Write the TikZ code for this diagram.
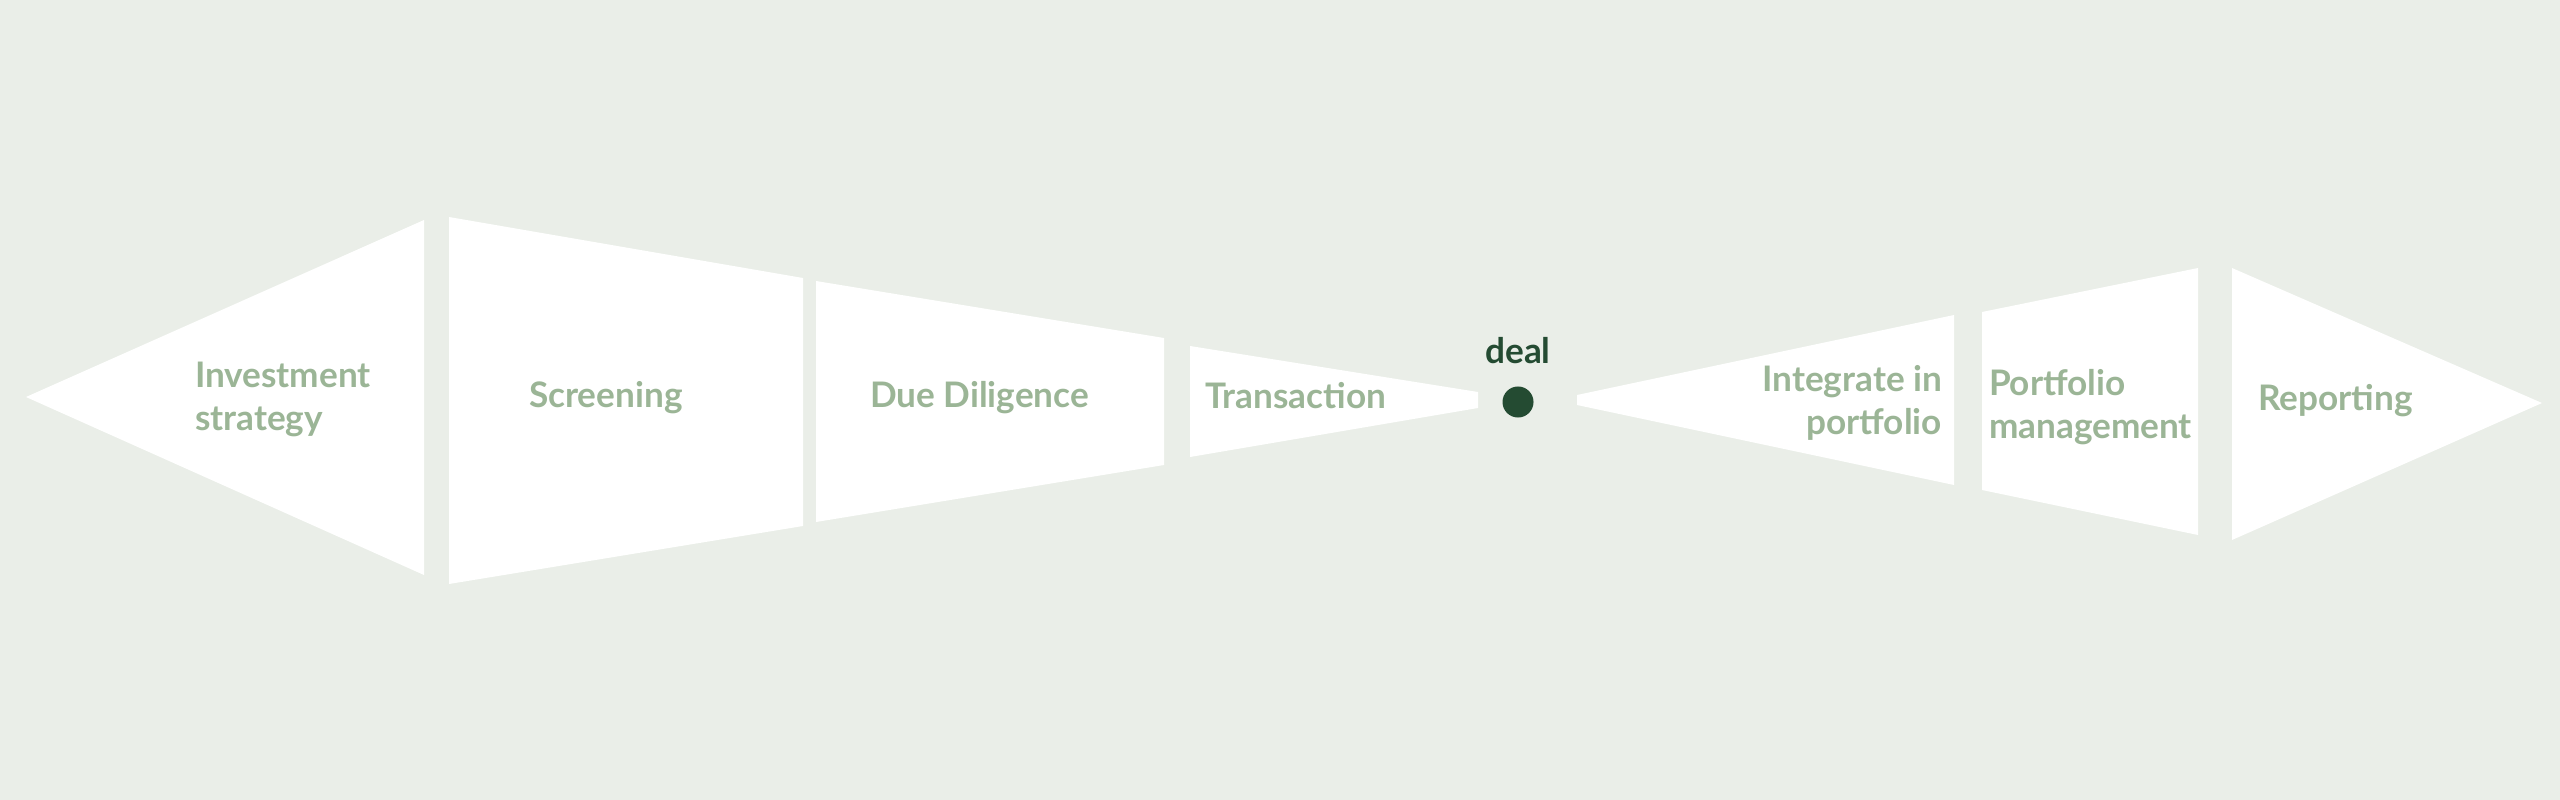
\documentclass[tikz,border=0pt]{standalone}
\usepackage{fontspec}
\setmainfont{Lato}
\usepackage{tikz}
\usetikzlibrary{positioning}
\definecolor{paper}{RGB}{234,238,232}
\definecolor{stagegreen}{RGB}{155,181,150}
\definecolor{dealgreen}{RGB}{36,75,50}
\tikzset{stage/.style={fill=white,draw=none}}
\tikzset{stage labels/.style={font=\bfseries\fontsize{10}{12}\selectfont,text=stagegreen,inner sep=0pt,outer sep=0pt}}
\tikzset{deal labels/.style={font=\bfseries\fontsize{10}{12}\selectfont,text=dealgreen,inner sep=0pt,outer sep=0pt}}
\tikzset{deal dot/.style={circle,fill=dealgreen,minimum size=0.31cm,inner sep=0pt}}

\begin{document}
\begin{tikzpicture}[x=0.01cm,y=-0.01cm]
    \tikzstyle{every node} = [stage labels]
    \fill[paper] (0,0) rectangle (2560,800);
    \useasboundingbox (0,0) rectangle (2560,800);

    % before the deal
    \fill[stage] (26,397) -- (424,220) -- (424,575) -- cycle;
    \fill[stage] (449,217) -- (803,278) -- (803,526) -- (449,584) -- cycle;
    \fill[stage] (816,281) -- (1164,338) -- (1164,465) -- (816,522) -- cycle;
    \fill[stage] (1190,346) -- (1478,392) -- (1478,408) -- (1190,457) -- cycle;
    % after the deal
    \fill[stage] (1577,395) -- (1954,315) -- (1954,485) -- (1577,405) -- cycle;
    \fill[stage] (1982,312) -- (2198,268) -- (2198,535) -- (1982,490) -- cycle;
    \fill[stage] (2232,268) -- (2542,403) -- (2232,540) -- cycle;

    % two-line labels sit on their last line
    \node[anchor=base west, align=left](S1) at (195,430) {Investment\\strategy};
    \node[anchor=base west](S2) at (529,407) {Screening};
    \node[anchor=base west](S3) at (870,407) {Due Diligence};
    \node[anchor=base west](S4) at (1205,408) {Transaction};

    \node[deal dot](D) at (1518,402) {};
    \node[deal labels](L)[above=0.225cm of D] {deal};

    \node[anchor=base east, align=right](S5) at (1942,434) {Integrate in\\portfolio};
    \node[anchor=base west, align=left](S6) at (1989,438) {Portfolio\\management};
    \node[anchor=base west](S7) at (2258,410) {Reporting};
\end{tikzpicture}
\end{document}
